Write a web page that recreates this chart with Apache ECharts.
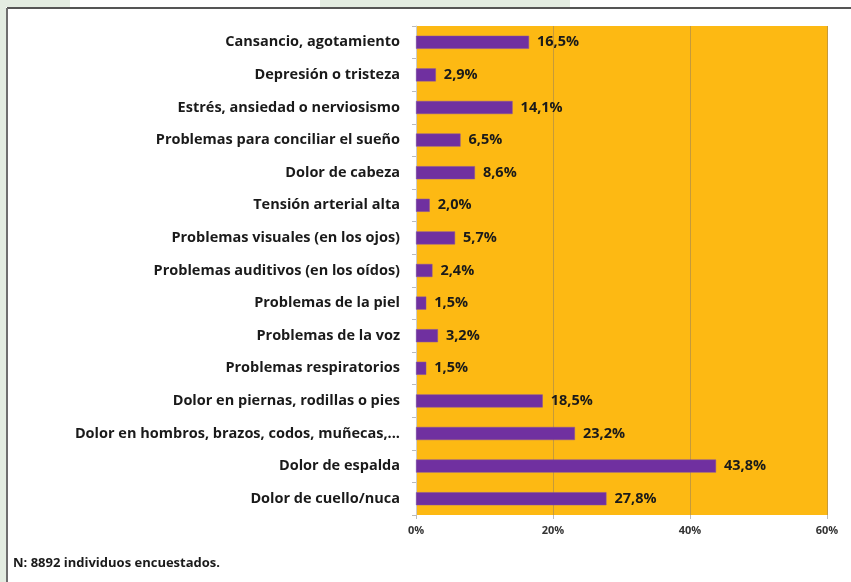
<!DOCTYPE html>
<html>
<head>
<meta charset="utf-8">
<script src="https://cdn.jsdelivr.net/npm/echarts@6/dist/echarts.min.js"></script>
<style>
html,body{margin:0;padding:0;background:#fff;}
#chart{width:851px;height:582px;}
</style>
</head>
<body>
<div id="chart"></div>
<script>
const categories = [
  "Cansancio, agotamiento",
  "Depresión o tristeza",
  "Estrés, ansiedad o nerviosismo",
  "Problemas para conciliar el sueño",
  "Dolor de cabeza",
  "Tensión arterial alta",
  "Problemas visuales (en los ojos)",
  "Problemas auditivos (en los oídos)",
  "Problemas de la piel",
  "Problemas de la voz",
  "Problemas respiratorios",
  "Dolor en piernas, rodillas o pies",
  "Dolor en hombros, brazos, codos, muñecas,...",
  "Dolor de espalda",
  "Dolor de cuello/nuca"
];
const values = [16.5, 2.9, 14.1, 6.5, 8.6, 2.0, 5.7, 2.4, 1.5, 3.2, 1.5, 18.5, 23.2, 43.8, 27.8];
const xTicks = [0, 20, 40, 60];
const footnote = "N: 8892 individuos encuestados.";

const chart = echarts.init(document.getElementById('chart'), null, {renderer: 'canvas'});
const FONT = 'Open Sans';
chart.setOption({
  backgroundColor: '#ffffff',
  animation: false,
  grid: {
    left: 416, right: 24, top: 26, bottom: 67,
    show: true, backgroundColor: '#FDB913', borderWidth: 0
  },
  xAxis: {
    type: 'value',
    min: xTicks[0], max: xTicks[xTicks.length - 1], interval: 20,
    axisLine: {show: false},
    axisTick: {show: true, length: 4, lineStyle: {color: '#BBBBBB'}},
    axisLabel: {
      margin: 10, color: '#333333', fontFamily: FONT, fontWeight: 'bold', fontSize: 11,
      formatter: v => v + '%'
    },
    splitLine: {show: true, lineStyle: {color: '#C59A3A', width: 1}}
  },
  yAxis: {
    type: 'category',
    data: categories,
    inverse: true,
    axisLine: {show: true, lineStyle: {color: '#CCCCCC'}},
    axisTick: {show: true, length: 4, lineStyle: {color: '#BBBBBB'}},
    axisLabel: {
      margin: 16, color: '#1a1a1a', fontFamily: FONT, fontWeight: 'bold', fontSize: 14.5
    }
  },
  series: [{
    type: 'bar',
    data: values,
    barCategoryGap: '60%',
    itemStyle: {color: '#7030A0', borderColor: '#8050A8', borderWidth: 0.5},
    label: {
      show: true, position: 'right', distance: 8,
      color: '#1a1a1a', fontFamily: FONT, fontWeight: 'bold', fontSize: 14.5,
      formatter: p => p.value.toFixed(1).replace('.', ',') + '%'
    }
  }],
  graphic: [
    {type: 'rect', shape: {x: 0, y: 0, width: 6, height: 582}, style: {fill: '#E3ECE1'}, z: -10},
    {type: 'rect', shape: {x: 0, y: 0, width: 70, height: 7}, style: {fill: '#E3ECE1'}, z: -10},
    {type: 'rect', shape: {x: 320, y: 0, width: 250, height: 7}, style: {fill: '#E3ECE1'}, z: -10},
    {type: 'line', shape: {x1: 7, y1: 8, x2: 851, y2: 8}, style: {stroke: '#555555', lineWidth: 2}},
    {type: 'line', shape: {x1: 7, y1: 8, x2: 7, y2: 582}, style: {stroke: '#6E6E6E', lineWidth: 2}},
    {type: 'text', left: 13, top: 557, style: {text: footnote, fill: '#1a1a1a', font: 'bold 13px "Open Sans"'}}
  ]
});
</script>
</body>
</html>
